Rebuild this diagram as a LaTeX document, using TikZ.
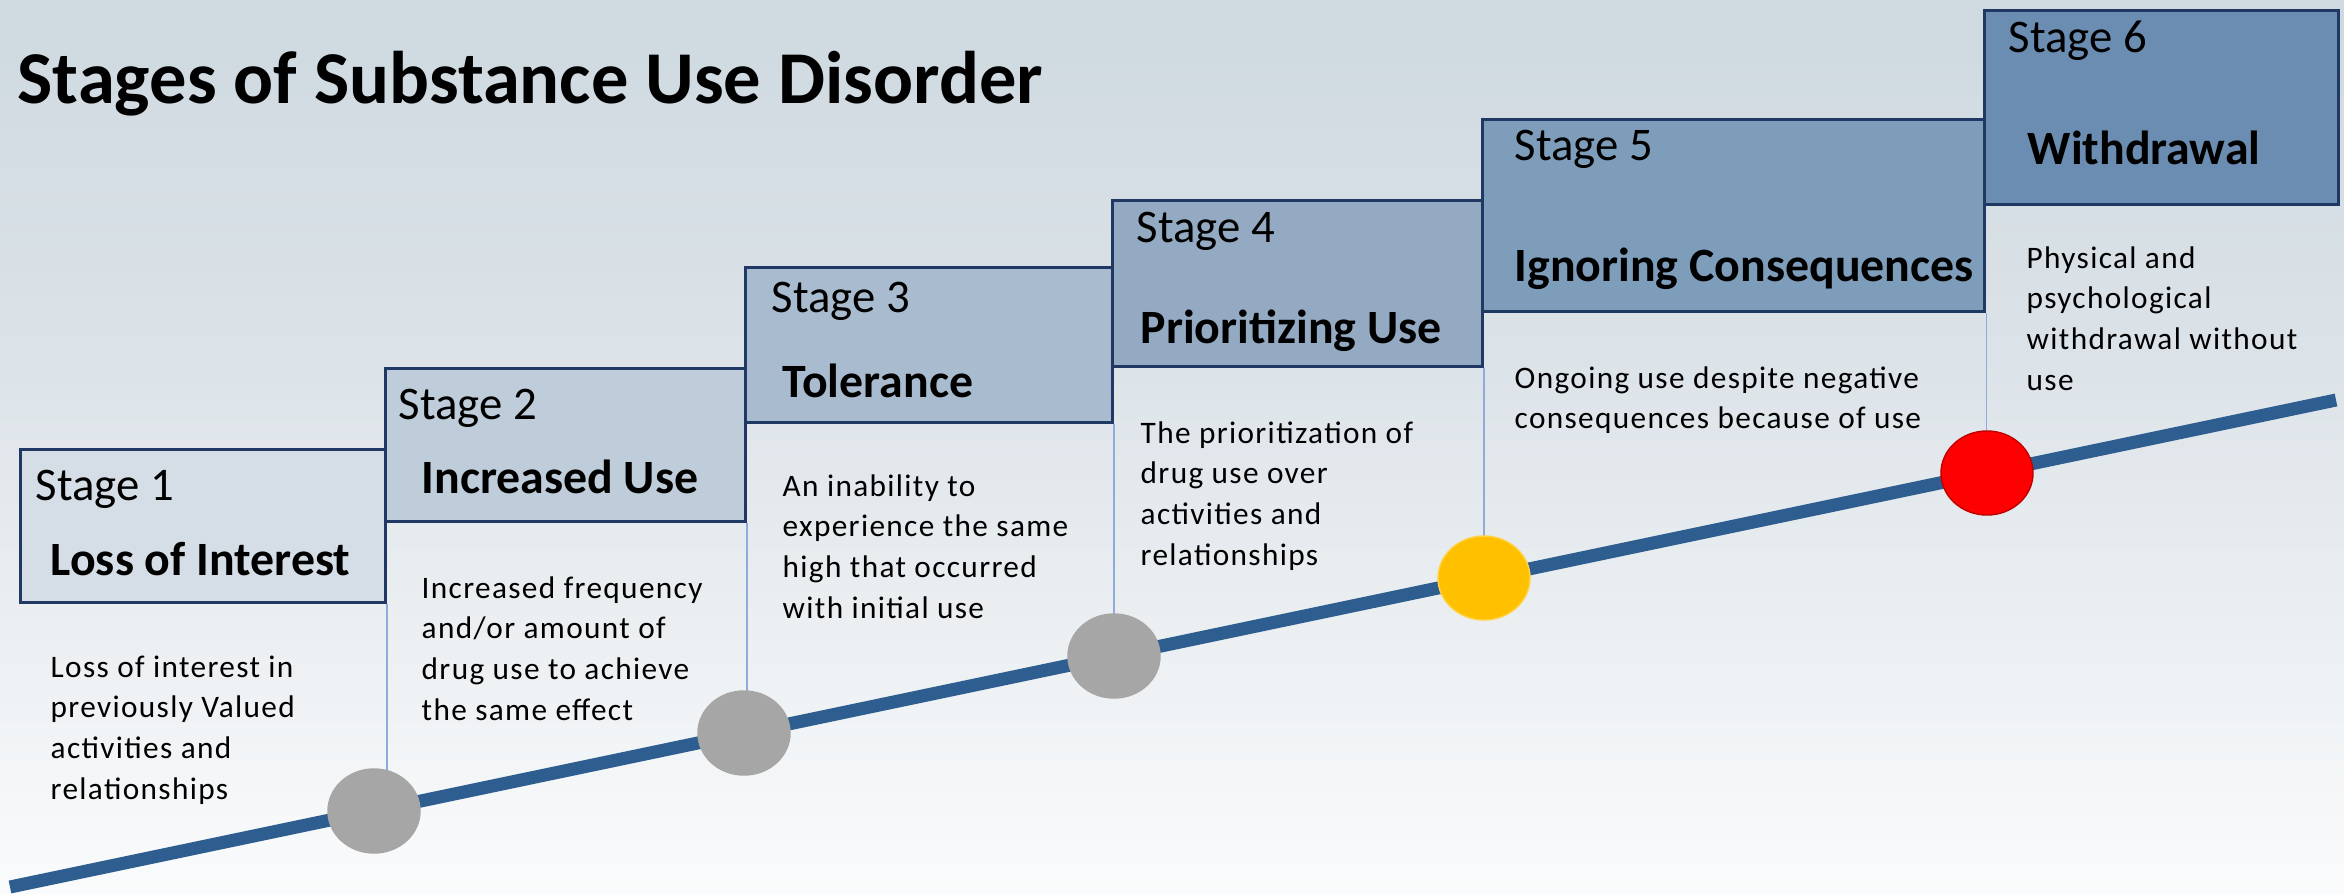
\documentclass[tikz,border=0pt]{standalone}
\usepackage{fontspec}
\setmainfont{Carlito}
\newfontfamily\descfont{Carlito}[LetterSpace=4.3]
\usetikzlibrary{shapes.geometric}
\pgfdeclarelayer{back}
\pgfsetlayers{back,main}
\definecolor{bgtop}{HTML}{BCCCD5}
\definecolor{bgmid}{HTML}{DCE3E8}
\definecolor{boxline}{HTML}{203864}
\definecolor{colline}{HTML}{8FAADC}
\definecolor{tline}{HTML}{2E5E8F}
\definecolor{bA}{HTML}{D5DDE6}
\definecolor{bB}{HTML}{BFCCD9}
\definecolor{bC}{HTML}{A9BCCF}
\definecolor{bD}{HTML}{94AAC3}
\definecolor{bE}{HTML}{7E9DBB}
\definecolor{bF}{HTML}{6A8DB1}
\definecolor{dotgray}{HTML}{A6A6A6}
\definecolor{dotyellow}{HTML}{FFC000}
\definecolor{dotred}{HTML}{FF0000}
\pgfdeclareverticalshading{bgshade}{100bp}{color(0bp)=(white); color(20bp)=(white); color(55bp)=(bgmid); color(100bp)=(bgtop)}
\newcommand\dlines[1]{\vtop{\halign{##\hfil\cr#1\crcr}}}
\tikzset{
  stagebox/.style={draw=boxline, line width=0.85pt, inner sep=0pt, anchor=north west, rectangle},
  dot/.style={ellipse, inner sep=0pt, minimum width=0.92cm, minimum height=0.84cm},
  thinline/.style={draw=colline, line width=0.45pt},
  mainline/.style={draw=tline, line width=3.7pt},
  titletext/.style={anchor=base west, inner sep=0pt, font=\bfseries\fontsize{21.2}{25}\selectfont},
  stagetext/.style={anchor=base west, inner sep=0pt, font=\fontsize{13.3}{16}\selectfont},
  nametext/.style={anchor=base west, inner sep=0pt, font=\bfseries\fontsize{13.6}{16}\selectfont},
  desctext/.style={anchor=base west, inner sep=0pt, font=\descfont\fontsize{8.9}{11.6}\selectfont},
}
\begin{document}
\begin{tikzpicture}[x=0.01cm, y=-0.01cm]
\useasboundingbox (0,0) rectangle (2344,893);
% header boxes
\node[stagebox, fill=bA, minimum width=3.65cm, minimum height=1.53cm] (box1) at (19,448) {};
\node[stagebox, fill=bB, minimum width=3.60cm, minimum height=1.53cm] (box2) at (384,367) {};
\node[stagebox, fill=bC, minimum width=3.67cm, minimum height=1.55cm] (box3) at (744,266) {};
\node[stagebox, fill=bD, minimum width=3.70cm, minimum height=1.66cm] (box4) at (1111,199) {};
\node[stagebox, fill=bE, minimum width=5.02cm, minimum height=1.92cm] (box5) at (1481,118) {};
\node[stagebox, fill=bF, minimum width=3.54cm, minimum height=1.94cm] (box6) at (1983,9) {};
% dots
\node[dot, fill=dotgray, draw=dotgray] (c1) at (374,811) {};
\node[dot, fill=dotgray, draw=dotgray] (c2) at (744,733) {};
\node[dot, fill=dotgray, draw=dotgray] (c3) at (1114,656) {};
\node[dot, fill=dotyellow, draw=dotyellow!70!white, line width=0.4pt] (c4) at (1484,578) {};
\node[dot, fill=dotred, draw=red!75!black, line width=0.4pt] (c5) at (1987,473) {};
\coordinate (ls) at (10,887);
\coordinate (le) at (2336,400);
\begin{pgfonlayer}{back}
\shade[shading=bgshade] (0,0) rectangle (2344,893);
\draw[thinline] (box1.south east) -- (box1.south east |- c1.center);
\draw[thinline] (box2.south east) -- (box2.south east |- c2.center);
\draw[thinline] (box3.south east) -- (box3.south east |- c3.center);
\draw[thinline] (box4.south east) -- (box4.south east |- c4.center);
\draw[thinline] (box5.south east) -- (box5.south east |- c5.center);
\draw[mainline] (ls) -- (le);
\end{pgfonlayer}
% title
\node[titletext] (title) at (17,103) {Stages of Substance Use Disorder};
% stage 1
\node[stagetext] (s1) at (35,500) {Stage 1};
\node[nametext] (n1) at (50,575) {Loss of Interest};
\node[desctext] (d1) at (50,677) {\dlines{Loss of interest in\cr previously Valued\cr activities and\cr relationships}};
% stage 2
\node[stagetext] (s2) at (398,419) {Stage 2};
\node[nametext] (n2) at (421,493) {Increased Use};
\node[desctext] (d2) at (421,598) {\dlines{Increased frequency\cr and/or amount of\cr drug use to achieve\cr the same effect}};
% stage 3
\node[stagetext] (s3) at (771,312) {Stage 3};
\node[nametext] (n3) at (782,397) {Tolerance};
\node[desctext] (d3) at (782,496) {\dlines{An inability to\cr experience the same\cr high that occurred\cr with initial use}};
% stage 4
\node[stagetext] (s4) at (1136,242) {Stage 4};
\node[nametext] (n4) at (1140,343) {Prioritizing Use};
\node[desctext] (d4) at (1140,443) {\dlines{The prioritization of\cr drug use over\cr activities and\cr relationships}};
% stage 5
\node[stagetext] (s5) at (1514,160) {Stage 5};
\node[nametext] (n5) at (1514,281) {Ignoring Consequences};
\node[desctext] (d5) at (1514,388) {\dlines{Ongoing use despite negative\cr consequences because of use}};
% stage 6
\node[stagetext] (s6) at (2008,52) {Stage 6};
\node[nametext] (n6) at (2027,164) {Withdrawal};
\node[desctext] (d6) at (2026,268) {\dlines{Physical and\cr psychological\cr withdrawal without\cr use}};
\end{tikzpicture}
\end{document}
